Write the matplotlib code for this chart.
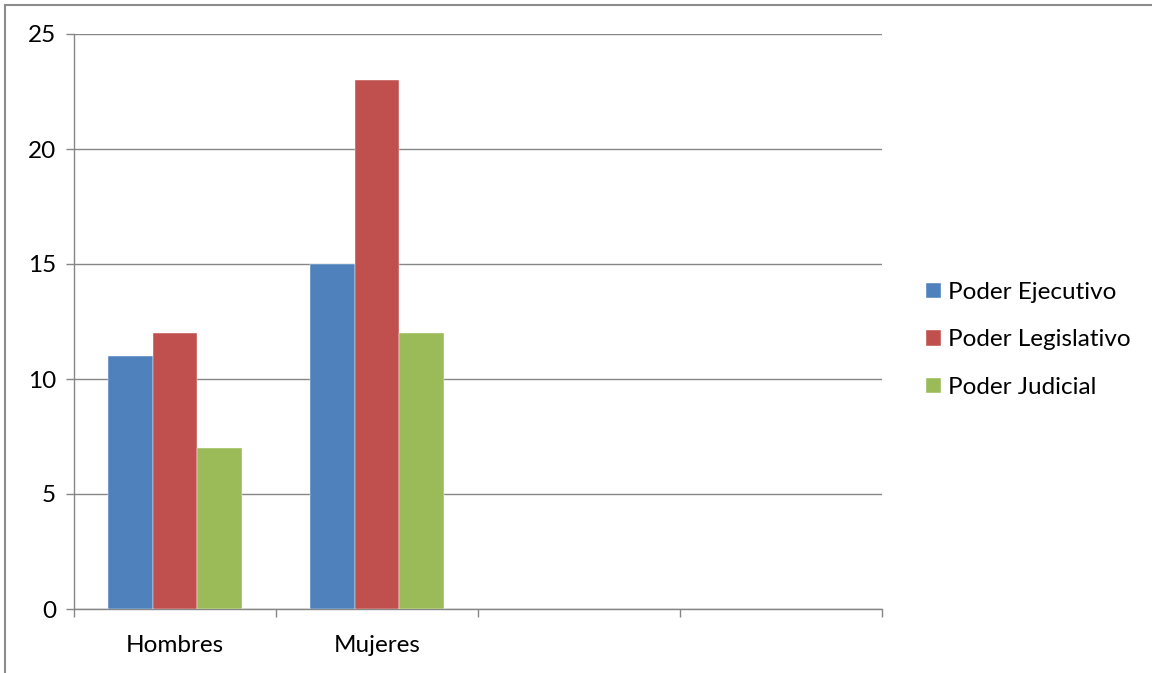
import matplotlib.pyplot as plt
import matplotlib.lines as mlines
import numpy as np

categories = ['Hombres', 'Mujeres', '', '']
series_names = ['Poder Ejecutivo', 'Poder Legislativo', 'Poder Judicial']
ejecutivo = [11, 15]
legislativo = [12, 23]
judicial = [7, 12]
colors = ['#4F81BD', '#C0504D', '#9BBB59']

plt.rcParams['font.family'] = ['Lato', 'DejaVu Sans']

W, H, DPI = 1152, 673, 100
fig = plt.figure(figsize=(W / DPI, H / DPI), dpi=DPI)
ax = fig.add_axes([74 / W, 1 - 609 / H, (882 - 74) / W, (609 - 34) / H])

grid_color = '#868686'
bar_w = 0.221
fs = 17.5

# clustered bars, one group per category slot
centers = np.arange(len(ejecutivo)) + 0.5
for i, (name, vals) in enumerate(zip(series_names, [ejecutivo, legislativo, judicial])):
    ax.bar(centers + (i - 1) * bar_w, vals, width=bar_w, color=colors[i],
           label=name, edgecolor='white', linewidth=0.3, zorder=3)

ax.set_xlim(0, len(categories))
ax.set_ylim(0, 25)
ax.set_yticks(range(0, 26, 5))
ax.yaxis.grid(True, color=grid_color, linewidth=1)
ax.set_axisbelow(True)

# boundaries get tick marks, category names sit between them
ax.set_xticks(range(len(categories) + 1))
ax.set_xticklabels([])
ax.set_xticks(np.arange(len(categories)) + 0.5, minor=True)
ax.set_xticklabels(categories, minor=True)
ax.tick_params(axis='x', which='major', length=5.76, color=grid_color, width=1)
ax.tick_params(axis='x', which='minor', length=0, pad=19, labelsize=fs)
ax.tick_params(axis='y', length=5.76, color=grid_color, width=1, pad=7, labelsize=fs)

for side in ['top', 'right']:
    ax.spines[side].set_visible(False)
for side in ['left', 'bottom']:
    ax.spines[side].set_color(grid_color)
    ax.spines[side].set_linewidth(1)

leg = fig.legend(loc='center left', bbox_to_anchor=(904 / W, 1 - 340 / H),
                 frameon=False, fontsize=fs, handlelength=0.62, handleheight=0.62,
                 handletextpad=0.3, labelspacing=1.09)

# chart frame edges
fig.add_artist(mlines.Line2D([4.5 / W, 4.5 / W], [0, 1 - 4.5 / H],
                             color='#8c8c8c', linewidth=1.5, transform=fig.transFigure))
fig.add_artist(mlines.Line2D([4.5 / W, 1], [1 - 4.5 / H, 1 - 4.5 / H],
                             color='#8c8c8c', linewidth=1.5, transform=fig.transFigure))

fig.savefig('out.png', dpi=DPI)
